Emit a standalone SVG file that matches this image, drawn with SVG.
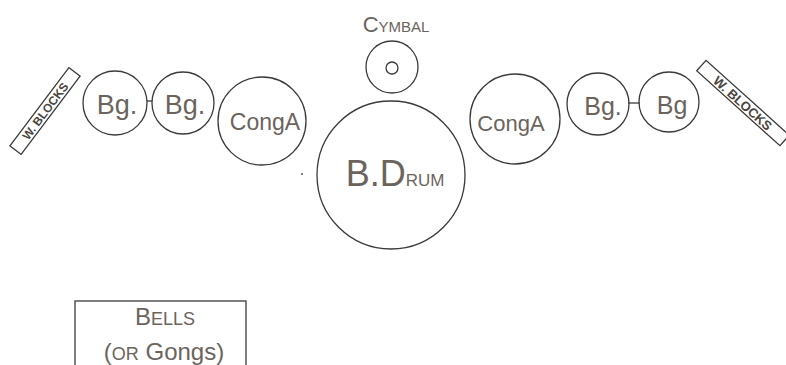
<svg xmlns="http://www.w3.org/2000/svg" width="786" height="365" viewBox="0 0 786 365">
<style>
.sh{fill:none;stroke:#3a3a3a;stroke-width:1.3}
.t{font-family:"Liberation Sans",Arial,sans-serif;fill:#6b645d;text-anchor:middle}
.w{font-family:"Liberation Sans",Arial,sans-serif;fill:#4a4540;text-anchor:middle;font-weight:bold}
.d{fill:#555}
</style>
<rect width="786" height="365" fill="#ffffff"/>
<g id="connectors">
<line class="sh" x1="147" y1="101" x2="152" y2="101"/>
<line class="sh" x1="628" y1="103" x2="640" y2="103"/>
</g>
<g id="wblocks-left">
<rect class="sh" x="-49" y="-7" width="98" height="14" transform="translate(45,111) rotate(-53)"/>
<text class="w" font-size="12" transform="translate(45,111) rotate(-53)" y="4.5">W. BLOCKS</text>
</g>
<g id="bg1">
<circle class="sh" cx="115" cy="103" r="32"/>
<text class="t" x="117" y="114" font-size="27">Bg.</text>
</g>
<g id="bg2">
<circle class="sh" cx="183" cy="103" r="31"/>
<text class="t" x="185" y="114" font-size="27">Bg.</text>
</g>
<g id="conga-left">
<circle class="sh" cx="262" cy="121" r="44"/>
<text class="t" x="265" y="130" font-size="23">CongA</text>
</g>
<text class="t" x="396" y="32" font-size="22">C<tspan font-size="15">YMBAL</tspan></text>
<g id="cymbal">
<circle class="sh" cx="392" cy="67" r="26"/>
<circle class="sh" cx="392" cy="68" r="6"/>
</g>
<g id="bdrum">
<circle class="sh" cx="391" cy="175" r="74"/>
<text class="t" x="395" y="186" font-size="36" fill="#444">B.D<tspan font-size="17">RUM</tspan></text>
</g>
<circle class="d" cx="302" cy="174" r="1"/>
<g id="conga-right">
<circle class="sh" cx="515" cy="119" r="45"/>
<text class="t" x="511" y="131" font-size="22">CongA</text>
</g>
<g id="bg3">
<circle class="sh" cx="598" cy="104" r="31"/>
<text class="t" x="603" y="115" font-size="25">Bg.</text>
</g>
<g id="bg4">
<circle class="sh" cx="669" cy="102" r="30"/>
<text class="t" x="672" y="114" font-size="25">Bg</text>
</g>
<g id="wblocks-right">
<rect class="sh" x="-56" y="-7" width="112" height="14" transform="translate(743,103) rotate(42)"/>
<text class="w" font-size="13" transform="translate(743,103) rotate(42)" y="5">W. BLOCKS</text>
</g>
<g id="bells">
<rect class="sh" x="75" y="301" width="171" height="80"/>
<text class="t" x="165" y="325" font-size="24">B<tspan font-size="18">ELLS</tspan></text>
<text class="t" x="164" y="360" font-size="24">(<tspan font-size="18">OR</tspan> Gongs)</text>
</g>
</svg>
